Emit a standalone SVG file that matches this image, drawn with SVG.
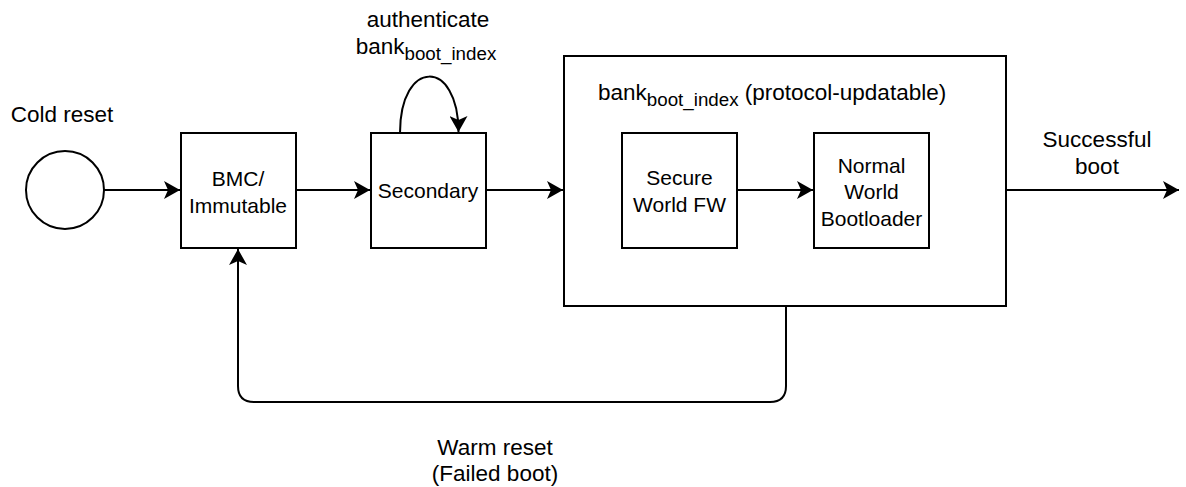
<svg xmlns="http://www.w3.org/2000/svg" width="1186" height="487" viewBox="0 0 1186 487">
<style>
.box{fill:#fff;stroke:#000;stroke-width:2}
.ln{fill:none;stroke:#000;stroke-width:2}
.t{font-family:"Liberation Sans",Arial,Helvetica,sans-serif;font-size:21px;fill:#000;text-anchor:middle}
.lb{font-family:"Liberation Sans",Arial,Helvetica,sans-serif;font-size:22.5px;fill:#000;text-anchor:middle}
.sub{font-size:18.75px}
</style>
<defs>
<marker id="arr" viewBox="0 0 16 18" markerWidth="16" markerHeight="18" markerUnits="userSpaceOnUse" refX="16" refY="9" orient="auto">
<path d="M0,0 L16,9 L0,18 L4,9 Z" fill="#000"/>
</marker>
</defs>
<rect width="1186" height="487" fill="#fff"/>
<g id="start">
<circle cx="65" cy="190" r="39" class="box"/>
<text class="lb" x="62" y="122">Cold reset</text>
</g>
<g id="bmc">
<rect x="181" y="133" width="115" height="115" class="box"/>
<text class="t" x="238" y="186">BMC/</text>
<text class="t" x="238" y="212.5">Immutable</text>
</g>
<g id="secondary">
<rect x="371" y="133" width="115" height="115" class="box"/>
<text class="t" x="428" y="198">Secondary</text>
</g>
<g id="bank">
<rect x="564" y="56" width="442" height="250" class="box"/>
<text class="lb" x="598" y="100" style="text-anchor:start" xml:space="preserve"><tspan>bank</tspan><tspan class="sub" dy="6">boot_index</tspan><tspan dy="-6"> (protocol-updatable)</tspan></text>
</g>
<g id="secure">
<rect x="622" y="133" width="115" height="115" class="box"/>
<text class="t" x="679.5" y="185">Secure</text>
<text class="t" x="679.5" y="211.5">World FW</text>
</g>
<g id="normal">
<rect x="814" y="133" width="115" height="115" class="box"/>
<text class="t" x="871.5" y="172.5">Normal</text>
<text class="t" x="871.5" y="199">World</text>
<text class="t" x="871.5" y="225.5">Bootloader</text>
</g>
<g id="connectors">
<path class="ln" d="M104,190 L180,190" marker-end="url(#arr)"/>
<path class="ln" d="M296,190 L370,190" marker-end="url(#arr)"/>
<path class="ln" d="M486,190 L563,190" marker-end="url(#arr)"/>
<path class="ln" d="M737,190 L813,190" marker-end="url(#arr)"/>
<path class="ln" d="M1006,190 L1179,190" marker-end="url(#arr)"/>
<path class="ln" d="M400,133 C400,58 458.5,58 458.5,132" marker-end="url(#arr)"/>
<path class="ln" d="M786,306 L786,386 Q786,402 770,402 L254,402 Q238,402 238,386 L238,249" marker-end="url(#arr)"/>
</g>
<g id="labels">
<text class="lb" x="428" y="27">authenticate</text>
<text class="lb" x="426" y="54"><tspan>bank</tspan><tspan class="sub" dy="6">boot_index</tspan></text>
<text class="lb" x="1097" y="147">Successful</text>
<text class="lb" x="1097" y="174">boot</text>
<text class="lb" x="495" y="455">Warm reset</text>
<text class="lb" x="495" y="481">(Failed boot)</text>
</g>
</svg>
